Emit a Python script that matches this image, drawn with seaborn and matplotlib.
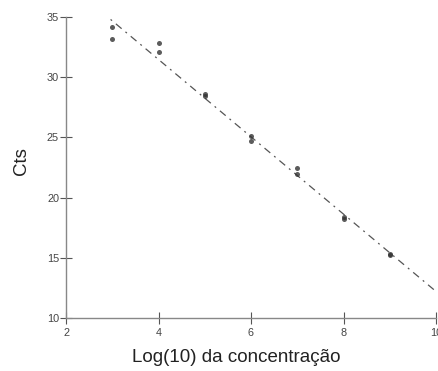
import numpy as np
import pandas as pd
import matplotlib
matplotlib.use("Agg")
import matplotlib.pyplot as plt
import seaborn as sns

# Data
log_conc = [3, 3, 4, 4, 5, 5, 6, 6, 7, 7, 8, 8, 9, 9]
cts = [34.2, 33.2, 32.8, 32.1, 28.6, 28.45, 25.1, 24.7, 22.45, 21.95, 18.35, 18.25, 15.35, 15.2]
x_ticks = [2, 4, 6, 8, 10]
y_ticks = [10, 15, 20, 25, 30, 35]

df = pd.DataFrame({"x": log_conc, "y": cts})

sns.set_style("white")
plt.rcParams['font.family'] = ['Liberation Sans', 'DejaVu Sans']

fig = plt.figure(figsize=(4.38, 3.71), dpi=100)
ax = fig.add_axes([66 / 438, 1 - 318 / 371, (436 - 66) / 438, (318 - 17) / 371])
ax.set_xlim(2, 10)
ax.set_ylim(10, 35)

sns.regplot(data=df, x="x", y="y", ax=ax, ci=None, truncate=False,
            scatter_kws=dict(s=13, color="#333333", linewidths=0, zorder=3),
            line_kws=dict(color="#555555", lw=0.9, linestyle=(0, (6, 4, 1.5, 4))))

ax.set_xlim(2, 10)
ax.set_ylim(10, 35)
ax.set_xticks(x_ticks)
ax.set_yticks(y_ticks)
ax.set_xlabel("Log(10) da concentração", fontsize=13.5, color="#222222")
ax.set_ylabel("Cts", fontsize=13.5, color="#222222")
ax.xaxis.set_label_coords((236 - 66) / 370, (318 - 349) / 301)
ax.yaxis.set_label_coords((30 - 66) / 370, (318 - 161.5) / 301)

for side in ["top", "right"]:
    ax.spines[side].set_visible(False)
for side in ["left", "bottom"]:
    ax.spines[side].set_visible(True)
    ax.spines[side].set_color("#888888")
    ax.spines[side].set_linewidth(1.0)

ax.tick_params(axis="both", direction="inout", length=8, width=0.8, colors="#555555",
               labelsize=7.8, labelcolor="#444444", left=True, bottom=True, pad=1)
ax.tick_params(axis="x", pad=3)

fig.savefig("out.png", dpi=100)
